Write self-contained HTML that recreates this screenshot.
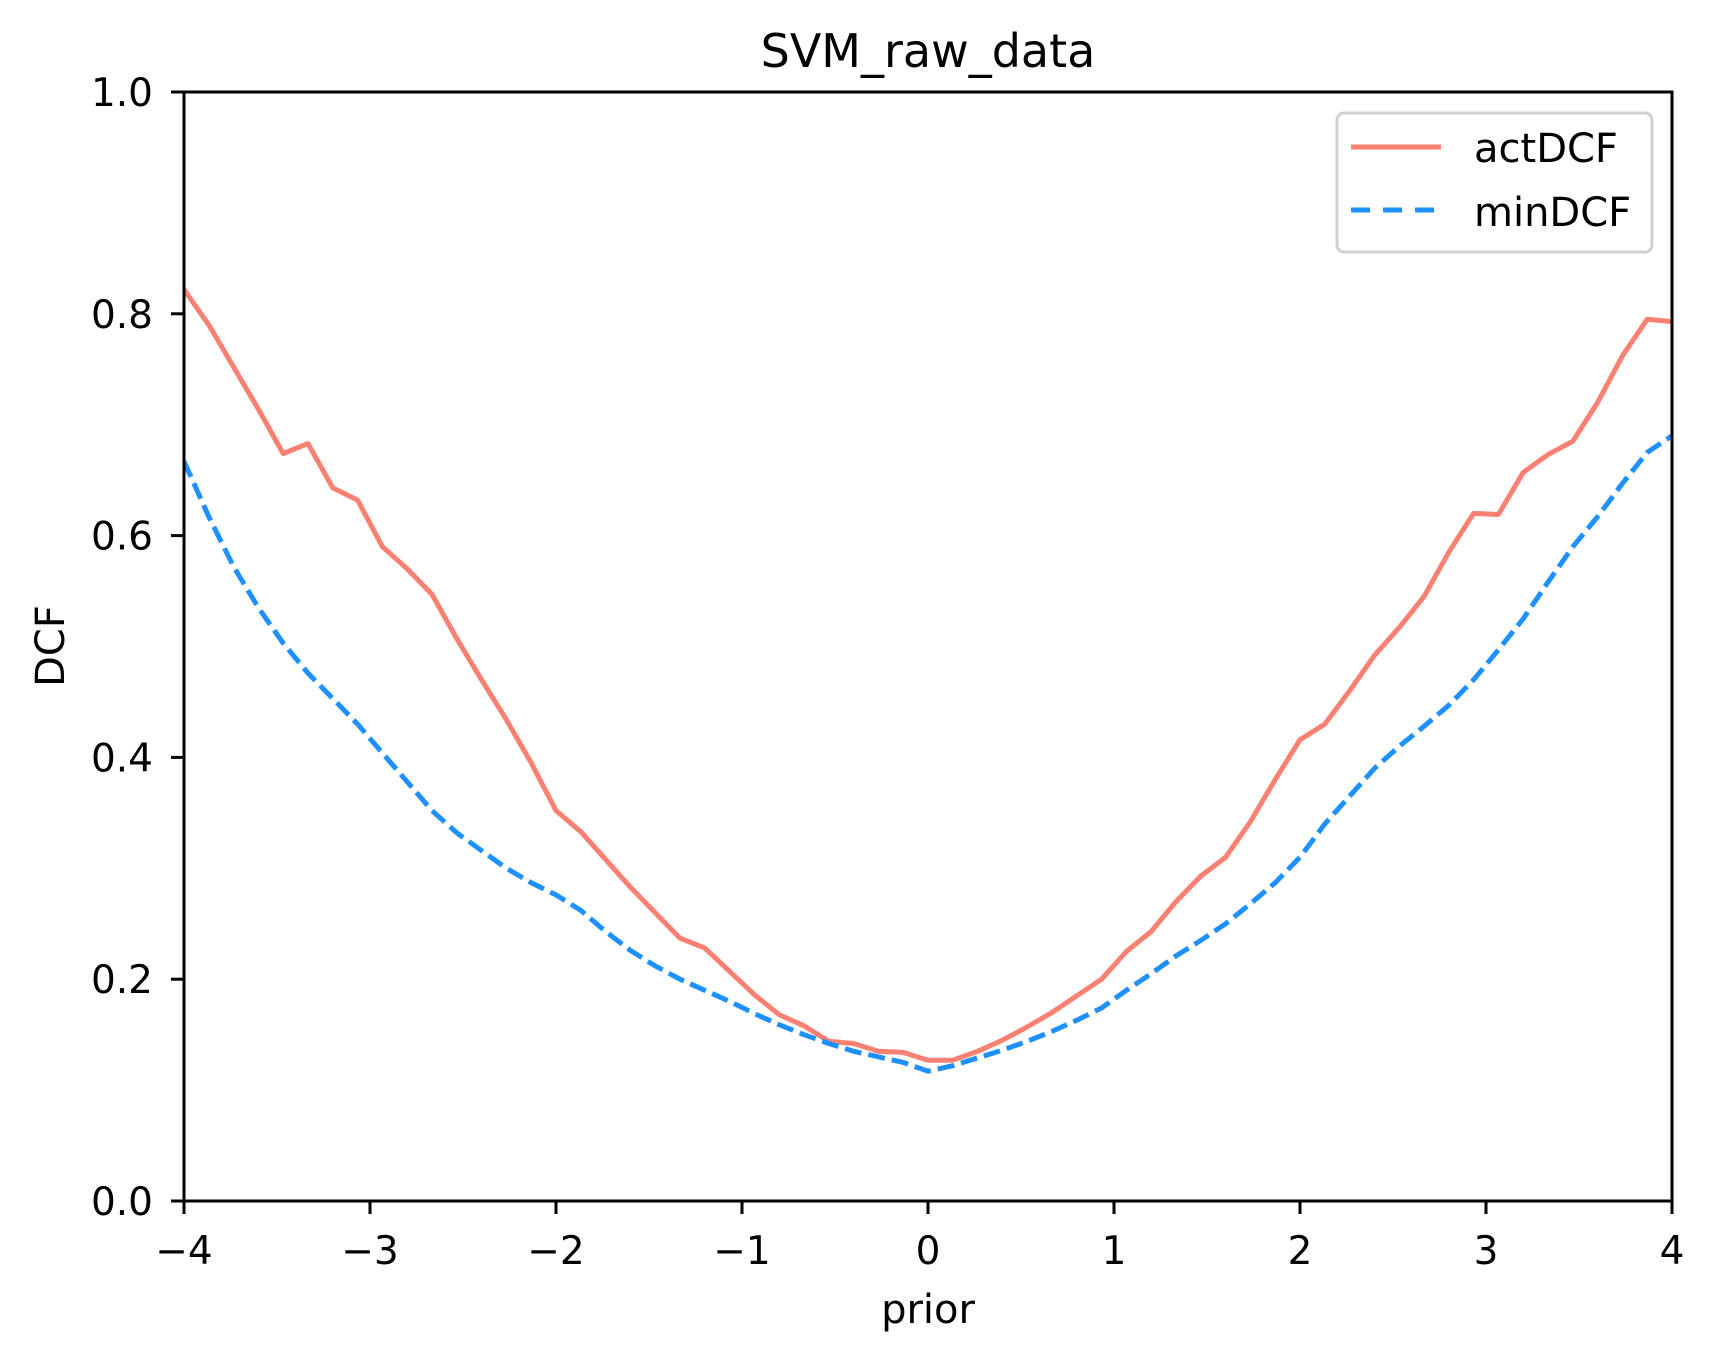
<!DOCTYPE html>
<html><head><meta charset="utf-8"><style>
html,body{margin:0;padding:0;background:#fff;}
svg text{font-family:"DejaVu Sans","Liberation Sans",sans-serif;fill:#000;}
</style></head><body>
<svg id="chart" width="1715" height="1361" viewBox="0 0 1715 1361" xmlns="http://www.w3.org/2000/svg">
<rect width="1715" height="1361" fill="#fff"/>
<text x="928" y="67" font-size="46" text-anchor="middle">SVM_raw_data</text>
<g id="plot"></g>
<text x="928" y="1323" font-size="40" text-anchor="middle">prior</text>
<text transform="translate(64,646) rotate(-90)" font-size="40" text-anchor="middle">DCF</text>
<g>
<rect x="1337" y="113" width="315" height="139" rx="7" fill="#fff" fill-opacity="0.8" stroke="#d0d0d0" stroke-width="3"/>
<line x1="1351" y1="147" x2="1441" y2="147" stroke="#fa8072" stroke-width="5"/>
<text x="1474" y="162" font-size="40">actDCF</text>
<line x1="1351" y1="210" x2="1441" y2="210" stroke="#1e90ff" stroke-width="5" stroke-dasharray="19,13"/>
<text x="1474" y="226" font-size="40">minDCF</text>
</g>
</svg>
<script>
const xTicks = [-4,-3,-2,-1,0,1,2,3,4];
const yTicks = [0.0,0.2,0.4,0.6,0.8,1.0];
const actDCF = [0.822,0.79,0.752,0.714,0.674,0.683,0.643,0.632,0.59,0.57,0.547,0.507,0.47,0.434,0.395,0.352,0.333,0.308,0.283,0.26,0.237,0.228,0.207,0.186,0.168,0.158,0.144,0.142,0.135,0.134,0.127,0.127,0.135,0.145,0.157,0.17,0.185,0.2,0.225,0.243,0.27,0.293,0.31,0.342,0.38,0.416,0.43,0.46,0.492,0.517,0.545,0.585,0.62,0.619,0.657,0.673,0.685,0.72,0.762,0.795,0.793];
const minDCF = [0.667,0.617,0.572,0.535,0.503,0.476,0.453,0.43,0.404,0.378,0.352,0.332,0.316,0.3,0.287,0.276,0.262,0.243,0.226,0.212,0.2,0.19,0.18,0.169,0.159,0.15,0.142,0.135,0.13,0.125,0.117,0.122,0.129,0.136,0.144,0.153,0.163,0.174,0.19,0.205,0.221,0.235,0.25,0.268,0.287,0.31,0.34,0.365,0.39,0.41,0.428,0.447,0.47,0.497,0.525,0.558,0.59,0.617,0.647,0.675,0.69];
const xMin=-4, xMax=4, yMin=0, yMax=1;
const L=184, R=1672, T=92, B=1201;
function sx(v){return L+(v-xMin)/(xMax-xMin)*(R-L);}
function sy(v){return B-(v-yMin)/(yMax-yMin)*(B-T);}
const NS='http://www.w3.org/2000/svg';
const g=document.getElementById('plot');
function mk(tag,attrs){const e=document.createElementNS(NS,tag);for(const k in attrs)e.setAttribute(k,attrs[k]);return e;}
function series(arr,color,dash,name){
  const n=arr.length;
  const pts=arr.map((v,i)=>sx(xMin+i*(xMax-xMin)/(n-1)).toFixed(1)+','+sy(v).toFixed(1)).join(' ');
  const p=mk('polyline',{points:pts,fill:'none',stroke:color,'stroke-width':5,'stroke-linejoin':'round'});
  if(dash)p.setAttribute('stroke-dasharray',dash);
  
  
  g.appendChild(p);
}
const cp=mk('clipPath',{id:'clip'});cp.appendChild(mk('rect',{x:L,y:T,width:R-L,height:B-T}));g.appendChild(cp);
const sg=mk('g',{'clip-path':'url(#clip)'});
series(actDCF,'#fa8072',null,'actdcf-line');
series(minDCF,'#1e90ff','17,7','mindcf-line');
[...g.querySelectorAll('polyline')].forEach(p=>sg.appendChild(p));
g.appendChild(sg);
xTicks.forEach(t=>{
  const x=sx(t);
  const l=mk('line',{x1:x,y1:B,x2:x,y2:B+13,stroke:'#000','stroke-width':3});
  
  
  g.appendChild(l);
  const tx=mk('text',{x:x,y:1264,'font-size':39,'text-anchor':'middle'});
  tx.textContent=(t<0?'\u2212'+Math.abs(t):String(t));
  
  
  g.appendChild(tx);
});
yTicks.forEach(t=>{
  const y=sy(t);
  const l=mk('line',{x1:L-13,y1:y,x2:L,y2:y,stroke:'#000','stroke-width':3});
  
  
  g.appendChild(l);
  const tx=mk('text',{x:153,y:y+14,'font-size':39,'text-anchor':'end'});
  tx.textContent=t.toFixed(1);
  
  
  g.appendChild(tx);
});
const frame=mk('rect',{x:L,y:T,width:R-L,height:B-T,fill:'none',stroke:'#000','stroke-width':3});


g.appendChild(frame);
</script>
</body></html>
